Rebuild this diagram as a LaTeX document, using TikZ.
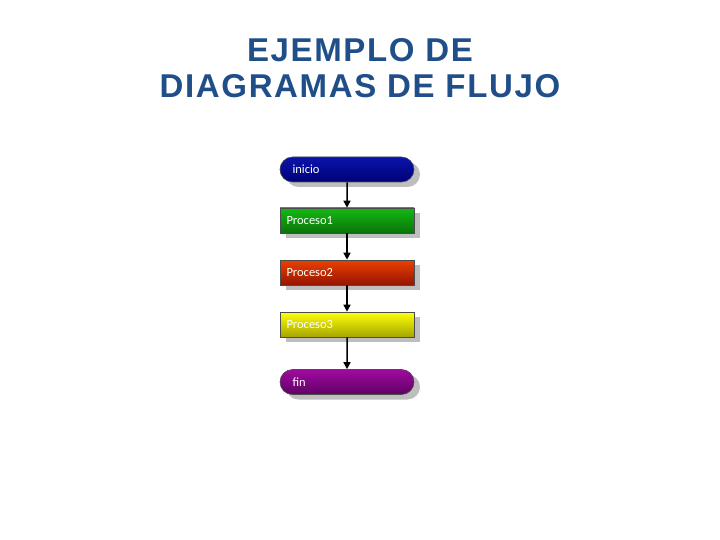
\documentclass[tikz,border=0pt]{standalone}
\usepackage{fontspec}
\setmainfont{Liberation Sans}
\newfontfamily\boxfont{Carlito}
\usepackage{xcolor}
\usepackage{tikz}
\usetikzlibrary{positioning, arrows.meta, shadows, shapes.misc}
\definecolor{titleblue}{RGB}{31, 78, 137}
\definecolor{shadowgray}{RGB}{190, 190, 190}
\definecolor{inicioTop}{RGB}{10, 20, 170}
\definecolor{inicioBot}{RGB}{0, 0, 120}
\definecolor{greenTop}{RGB}{20, 185, 20}
\definecolor{greenBot}{RGB}{10, 115, 10}
\definecolor{redTop}{RGB}{235, 65, 0}
\definecolor{redBot}{RGB}{150, 20, 0}
\definecolor{yellowTop}{RGB}{255, 255, 10}
\definecolor{yellowBot}{RGB}{165, 165, 0}
\definecolor{finTop}{RGB}{160, 10, 160}
\definecolor{finBot}{RGB}{95, 0, 100}
\tikzset{
    stepnode/.style={
        rectangle, draw=black!70, line width=0.6pt, minimum width=134pt, minimum height=25pt,
        text width=121pt, align=left, inner sep=0pt, text=white,
        font=\boxfont\fontsize{12.5}{14}\selectfont,
        drop shadow={shadow xshift=6pt, shadow yshift=-5pt, fill=shadowgray, opacity=1}
    },
    endnode/.style={
        stepnode, rounded rectangle, text width=109pt
    },
    flowarrow/.style={
        -{Triangle[length=7pt, width=7pt]}, line width=1.5pt, black
    },
    titletext/.style={
        anchor=base, text=titleblue,
        font=\addfontfeatures{LetterSpace=5}\bfseries\fontsize{33}{36}\selectfont
    }
}
\begin{document}
\begin{tikzpicture}[x=1pt, y=-1pt]
    \useasboundingbox (0,0) rectangle (720,540);

    % ======================================
    % TITULO
    % ======================================
    \node[titletext] (titleA) at (360,62) {EJEMPLO DE};
    \node[titletext] (titleB) at (360,98) {DIAGRAMAS DE FLUJO};

    % ======================================
    % DIAGRAMA DE FLUJO
    % ======================================
    \node[endnode, top color=inicioTop, bottom color=inicioBot] (inicio) at (347,169.5) {inicio};
    \node[stepnode, top color=greenTop, bottom color=greenBot] (proc1) at (347,220.5) {Proceso1};
    \node[stepnode, top color=redTop, bottom color=redBot] (proc2) at (347,272.5) {Proceso2};
    \node[stepnode, top color=yellowTop, bottom color=yellowBot] (proc3) at (347,324.5) {Proceso3};
    \node[endnode, top color=finTop, bottom color=finBot] (fin) at (347,382) {fin};

    % Flechas
    \draw[flowarrow] (inicio) -- (proc1);
    \draw[flowarrow] (proc1) -- (proc2);
    \draw[flowarrow] (proc2) -- (proc3);
    \draw[flowarrow] (proc3) -- (fin);

\end{tikzpicture}
\end{document}
